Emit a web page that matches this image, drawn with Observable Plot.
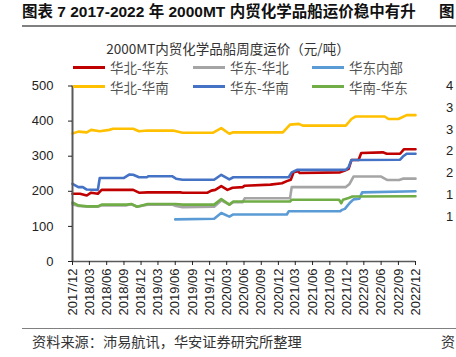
<!DOCTYPE html>
<html>
<head>
<meta charset="utf-8">
<script src="https://cdn.jsdelivr.net/npm/d3@7"></script>
<script src="https://cdn.jsdelivr.net/npm/@observablehq/plot@0.6"></script>
<style>
  html, body { margin: 0; padding: 0; background: #fff; }
  #wrap { position: relative; width: 456px; height: 357px; overflow: hidden; background: #fff; }
  .abs { position: absolute; white-space: nowrap; }
  .cjk { font-family: "Noto Sans CJK SC", "Noto Sans", sans-serif; }
  .lat { font-family: "Liberation Sans", "Noto Sans CJK SC", sans-serif; }
</style>
</head>
<body>
<div id="wrap"></div>
<script>
// ---------------- data ----------------
const seriesNames = ["华北-华东", "华东-华北", "华东内部", "华北-华南", "华东-华南", "华南-华东"];
const seriesColors = ["#C00000", "#A5A5A5", "#5B9BD5", "#FFC000", "#4472C4", "#70AD47"];

const huabeiHuadong = [
  ["2017-12-01",193],["2018-01-10",193],["2018-02-15",188],["2018-03-10",196],["2018-04-15",193],
  ["2018-05-05",204],["2018-10-20",204],["2018-11-20",196],["2019-01-05",197],["2019-06-28",197],
  ["2019-07-10",196],["2019-11-20",196],["2019-12-10",202],["2019-12-31",204],["2020-02-01",215],
  ["2020-03-05",204],["2020-04-01",210],["2020-05-25",212],["2020-06-05",216],["2020-10-20",219],
  ["2020-12-20",223],["2021-01-15",229],["2021-02-05",233],["2021-02-20",254],["2021-03-15",257],
  ["2021-03-25",252],["2021-10-25",254],["2021-11-20",259],["2021-12-10",264],["2021-12-25",289],
  ["2022-02-01",289],["2022-02-15",309],["2022-06-10",311],["2022-07-01",307],["2022-09-10",307],
  ["2022-10-01",320],["2022-12-01",320]
];
const huadongHuabei = [
  ["2017-12-01",163],["2018-01-01",158],["2018-03-01",156],["2018-04-15",156],["2018-05-05",160],
  ["2018-09-15",160],["2018-10-10",163],["2018-11-10",156],["2019-01-05",162],["2019-05-15",162],
  ["2019-06-05",158],["2019-07-10",155],["2019-12-25",156],["2020-02-01",174],["2020-03-15",162],
  ["2020-04-05",169],["2020-05-25",169],["2020-06-05",180],["2021-02-01",180],["2021-02-10",212],
  ["2021-11-25",212],["2021-12-15",221],["2022-01-05",242],["2022-06-01",242],["2022-06-20",236],
  ["2022-07-05",232],["2022-09-05",232],["2022-09-25",236],["2022-12-01",236]
];
const huadongNeibu = [
  ["2019-06-01",120],["2019-12-25",122],["2020-02-01",138],["2020-03-15",128],["2020-04-05",134],
  ["2021-01-15",134],["2021-01-25",143],["2021-10-25",143],["2021-11-05",147],["2021-11-20",150],
  ["2021-12-05",160],["2021-12-20",169],["2022-01-05",177],["2022-02-05",179],["2022-02-20",197],
  ["2022-12-01",200]
];
const huabeiHuanan = [
  ["2017-12-01",365],["2018-01-01",370],["2018-02-15",368],["2018-03-10",375],["2018-04-25",371],
  ["2018-06-15",375],["2018-07-05",378],["2018-10-20",378],["2018-11-20",371],["2019-01-05",373],
  ["2019-05-20",373],["2019-07-10",367],["2019-12-20",367],["2020-02-01",380],["2020-03-15",364],
  ["2020-04-05",368],["2020-12-25",368],["2021-02-01",390],["2021-03-20",392],["2021-04-10",387],
  ["2021-11-25",387],["2021-12-25",406],["2022-01-15",413],["2022-06-20",413],["2022-07-10",406],
  ["2022-09-01",406],["2022-10-15",417],["2022-12-01",417]
];
const huadongHuanan = [
  ["2017-12-01",221],["2018-01-01",212],["2018-01-25",212],["2018-02-15",205],["2018-04-15",204],
  ["2018-04-25",238],["2018-09-01",238],["2018-10-01",248],["2018-10-20",247],["2018-11-20",240],
  ["2019-01-01",240],["2019-01-10",243],["2019-05-15",243],["2019-06-05",236],["2019-07-10",233],
  ["2019-12-25",233],["2020-02-01",247],["2020-03-15",234],["2020-04-05",240],["2021-01-25",240],
  ["2021-02-10",254],["2021-03-10",261],["2021-11-25",261],["2021-12-10",269],["2021-12-25",289],
  ["2022-09-10",290],["2022-09-25",299],["2022-10-15",307],["2022-12-01",307]
];
const huananHuadong = [
  ["2017-12-01",168],["2018-01-01",160],["2018-02-15",157],["2018-04-15",157],["2018-05-05",162],
  ["2018-09-15",162],["2018-10-10",164],["2018-11-10",156],["2019-01-05",164],["2019-06-01",164],
  ["2019-07-10",162],["2019-12-25",162],["2020-02-01",178],["2020-03-15",162],["2020-04-05",171],
  ["2021-02-01",171],["2021-02-10",176],["2021-10-20",176],["2021-11-01",166],["2021-11-10",176],
  ["2021-12-10",181],["2021-12-30",185],["2022-12-01",186]
];
const seriesData = [huabeiHuadong, huadongHuabei, huadongNeibu, huabeiHuanan, huadongHuanan, huananHuadong];

const xTickLabels = ["2017/12","2018/03","2018/06","2018/09","2018/12","2019/03","2019/06","2019/09",
  "2019/12","2020/03","2020/06","2020/09","2020/12","2021/03","2021/06","2021/09","2021/12",
  "2022/03","2022/06","2022/09","2022/12"];
const yTicks = [0, 100, 200, 300, 400, 500];

const titleText = "图表 7 2017-2022 年 2000MT 内贸化学品船运价稳中有升";
const chartTitle = "2000MT内贸化学品船周度运价（元/吨）";
const sourceText = "资料来源：沛易航讯，华安证券研究所整理";
const neighbourLabels = ["4", "3", "3", "2", "2", "1", "1"];

// ---------------- build ----------------
const parseDay = d => new Date(d + "T00:00:00Z");
const parseTick = s => new Date(Date.UTC(+s.slice(0, 4), +s.slice(5) - 1, 1));
const xTicks = xTickLabels.map(parseTick);
const xDomain = [xTicks[0], xTicks[xTicks.length - 1]];

const rows = seriesData.flatMap((arr, i) =>
  arr.map(([d, v]) => ({ series: seriesNames[i], date: parseDay(d), value: v })));

const wrap = document.getElementById("wrap");

const chart = Plot.plot({
  width: 456,
  height: 357,
  marginLeft: 72,
  marginRight: 41,
  marginTop: 85.5,
  marginBottom: 96,
  style: { fontFamily: '"Liberation Sans", Arial, sans-serif', fontSize: "13px", color: "#222", background: "transparent", overflow: "visible" },
  x: { type: "utc", domain: xDomain },
  y: { domain: [0, 500] },
  color: { domain: seriesNames, range: seriesColors },
  marks: [
    Plot.line(rows, { x: "date", y: "value", z: "series", stroke: "series", strokeWidth: 2.6, strokeLinejoin: "round" }),
    Plot.ruleX([xDomain[0]], { stroke: "#595959", strokeWidth: 2 }),
    Plot.ruleY([0], { stroke: "#595959", strokeWidth: 1.6 }),
    Plot.axisY({ ticks: yTicks, tickSize: 4, tickPadding: 15, label: null, fontSize: 13 }),
    Plot.axisX({ ticks: xTicks, tickFormat: d3.utcFormat("%Y/%m"), tickRotate: -90, tickSize: 4, tickPadding: 3, label: null, fontSize: 13 })
  ]
});
chart.style.position = "absolute";
chart.style.left = "0px";
chart.style.top = "0px";
wrap.appendChild(chart);

function addDiv(cls, css, text) {
  const el = document.createElement("div");
  el.className = "abs " + cls;
  el.style.cssText = css;
  if (text != null) el.textContent = text;
  wrap.appendChild(el);
  return el;
}

// page title + rule
addDiv("lat", "left:22px;top:1px;font-weight:bold;font-size:15.5px;color:#111;line-height:22px;", titleText);
addDiv("lat", "left:439px;top:1px;font-weight:bold;font-size:15.5px;color:#111;line-height:22px;", "图");
addDiv("", "left:22px;top:24.5px;width:434px;height:2px;background:#808080;");

// chart title
addDiv("cjk", "left:0;width:456px;text-align:center;top:38px;font-size:13.5px;color:#333;line-height:20px;", chartTitle);

// legend
const legCols = [73, 193, 312];
const legRows = [67, 86.5];
seriesNames.forEach((name, i) => {
  const cx = legCols[i % 3], cy = legRows[Math.floor(i / 3)];
  addDiv("", `left:${cx}px;top:${cy - 1.5}px;width:32px;height:3px;background:${seriesColors[i]};`);
  addDiv("cjk", `left:${cx + 37}px;top:${cy - 10}px;font-size:13.5px;line-height:20px;color:#555;`, name);
});

// neighbouring chart remnants at right edge
neighbourLabels.forEach((t, i) => {
  addDiv("lat", `left:446px;top:${86 + i * 21.8 - 8}px;font-size:13px;line-height:16px;color:#222;`, t);
});

// bottom rule + source
addDiv("", "left:22px;top:327.5px;width:434px;height:1.5px;background:#808080;");
addDiv("cjk", "left:32px;top:331px;font-size:14.2px;line-height:20px;color:#333;", sourceText);
addDiv("cjk", "left:441px;top:331px;font-size:14px;line-height:20px;color:#333;", "资");
</script>
</body>
</html>
